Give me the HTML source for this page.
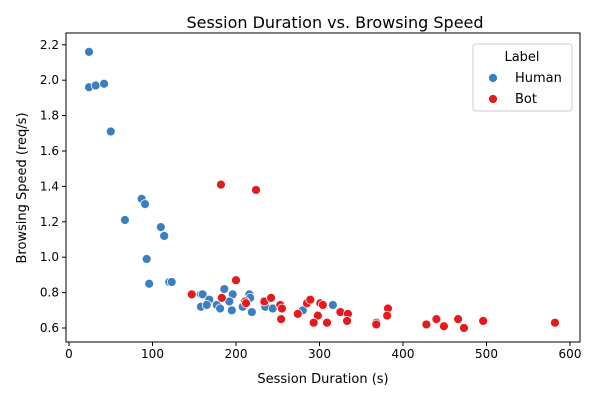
<!DOCTYPE html>
<html><head><meta charset="utf-8"><style>
body{margin:0;background:#fff;font-family:"Liberation Sans","DejaVu Sans",sans-serif}
</style></head><body>
<svg id="c" width="600" height="400" xmlns="http://www.w3.org/2000/svg" font-family="DejaVu Sans, Liberation Sans, sans-serif"></svg>
<script>
const humanX=[24,24,32,42,50,87,91,67,110,114,93,96,120,123,158,160,186,196,168,158,165,177,181,192,195,208,216,217,219,235,244,280,316];
const humanY=[2.16,1.96,1.97,1.98,1.71,1.33,1.30,1.21,1.17,1.12,0.99,0.85,0.86,0.86,0.79,0.79,0.82,0.79,0.76,0.72,0.73,0.73,0.71,0.75,0.70,0.72,0.79,0.77,0.69,0.72,0.71,0.70,0.73];
const botX=[182,224,147,183,200,211,212,234,242,253,255,254,274,285,289,298,293,301,304,309,325,334,333,368,368,382,381,428,440,449,466,473,496,582];
const botY=[1.41,1.38,0.79,0.77,0.87,0.75,0.74,0.75,0.77,0.73,0.71,0.65,0.68,0.74,0.76,0.67,0.63,0.74,0.73,0.63,0.69,0.68,0.64,0.63,0.62,0.71,0.67,0.62,0.65,0.61,0.65,0.60,0.64,0.63];
const xTicks=[0,100,200,300,400,500,600];
const yTicks=[0.6,0.8,1.0,1.2,1.4,1.6,1.8,2.0,2.2];
const L=66,R=580,T=33,B=342;
const sx=v=>69+v*0.835, sy=v=>328-(v-0.6)*177;
const svg=document.getElementById('c');const NS='http://www.w3.org/2000/svg';
function mk(t,a,p){const e=document.createElementNS(NS,t);for(const k in a)e.setAttribute(k,a[k]);(p||svg).appendChild(e);return e;}
const t=mk('text',{x:335,y:28,'text-anchor':'middle','font-size':16});t.textContent='Session Duration vs. Browsing Speed';


xTicks.forEach(v=>{const g=mk('g',{});


mk('line',{x1:sx(v),x2:sx(v),y1:B,y2:B+4,stroke:'#000'},g);
const s=mk('text',{x:sx(v),y:B+16,'text-anchor':'middle','font-size':12},g);s.textContent=v;});
yTicks.forEach(v=>{const g=mk('g',{});


mk('line',{x1:L-4,x2:L,y1:sy(v),y2:sy(v),stroke:'#000'},g);
const s=mk('text',{x:L-7,y:sy(v)+4,'text-anchor':'end','font-size':12},g);s.textContent=v.toFixed(1);});
const xt=mk('text',{x:323,y:383,'text-anchor':'middle','font-size':13});xt.textContent='Session Duration (s)';


const yt=mk('text',{x:26,y:188,'text-anchor':'middle','font-size':13,transform:'rotate(-90 26 188)'});yt.textContent='Browsing Speed (req/s)';


humanX.forEach((x,i)=>{const c=mk('circle',{cx:sx(x),cy:sy(humanY[i]),r:4.5,fill:'#3a7fc0',stroke:'#fff','stroke-width':0.8});

});
botX.forEach((x,i)=>{const c=mk('circle',{cx:sx(x),cy:sy(botY[i]),r:4.5,fill:'#e41a1c',stroke:'#fff','stroke-width':0.8});

});
const fr=mk('rect',{x:L,y:T,width:R-L,height:B-T,fill:'none',stroke:'#000','stroke-width':1});


const lg=mk('g',{});


mk('rect',{x:473,y:44,width:99,height:67,rx:3,fill:'#fff',stroke:'#ccc','fill-opacity':0.8},lg);
const lt=mk('text',{x:522,y:61,'text-anchor':'middle','font-size':13},lg);lt.textContent='Label';
[['Human','#3a7fc0',82],['Bot','#e41a1c',103]].forEach(([n,c,y])=>{const g=mk('g',{},lg);


mk('circle',{cx:493,cy:y-4,r:4.5,fill:c,stroke:'#fff','stroke-width':0.8},g);
const s=mk('text',{x:515,y:y,'font-size':13},g);s.textContent=n;});
</script>
</body></html>
